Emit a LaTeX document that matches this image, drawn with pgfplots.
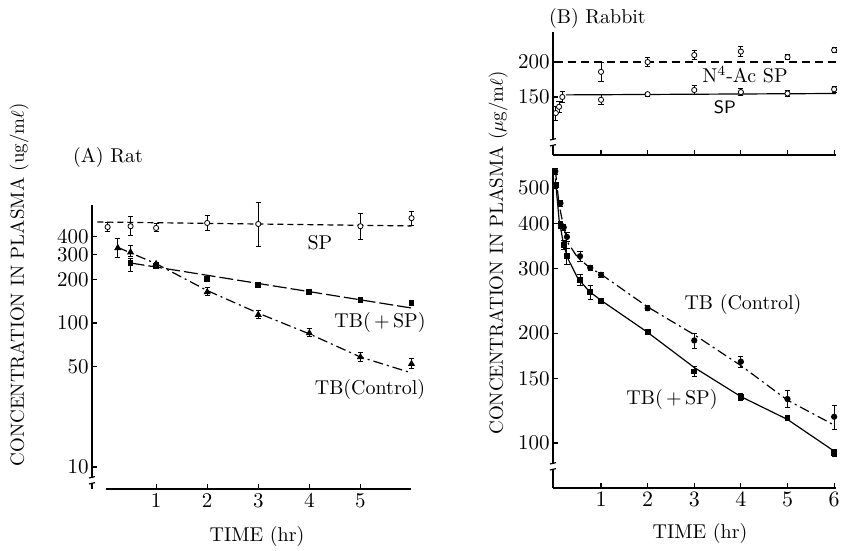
\documentclass[border=0pt]{standalone}
\usepackage{pgfplots}
\pgfplotsset{compat=1.18}
\begin{document}
\begin{tikzpicture}
\useasboundingbox (0,0) rectangle (421.5pt,275.5pt);
\pgfplotsset{
 base/.style={scale only axis, anchor=south west,
   axis x line*=bottom, axis y line*=left,
   axis line style={line width=0.8pt,-},
   tick style={black,line width=0.6pt}, major tick length=2.5pt, tick align=inside,
   tick label style={font=\fontsize{10.5}{12}\selectfont},
   yticklabel style={inner xsep=1.5pt, inner ysep=0pt}, xticklabel style={inner sep=2pt},
   yminorticks=false, xminorticks=false, clip=false},
 fitline/.style={line width=0.6pt, black},
 pts/.style={only marks, black, mark size=1.3pt, mark options={solid, line width=0.5pt},
   error bars/y dir=both, error bars/y explicit,
   error bars/error bar style={solid, line width=0.5pt},
   error bars/error mark options={rotate=90, mark size=1.3pt, line width=0.5pt}},
}
% ---------------- Panel A (Rat) ----------------
\begin{axis}[base, at={(46pt,31pt)}, width=159.5pt, height=142pt,
  xmin=-0.255, xmax=5.99, ymode=log, ymin=7.03, ymax=660,
  xtick={1,2,3,4,5,6}, xticklabels={1,2,3,4,5,{}},
  ytick={10,50,100,200,300,400}, yticklabels={10,50,100,200,300,400},
  x axis line style={shorten <=7pt}]
\addplot[fitline, dash pattern=on 3pt off 2pt] coordinates {(-0.15,503) (6,472)};
\addplot[fitline, dash pattern=on 7pt off 2pt] coordinates {(0.5,261) (6,127)};
\addplot[fitline, dash pattern=on 5pt off 2pt on 1pt off 2pt] coordinates {(0.25,335) (1,258) (2,168) (3,117) (4,84) (5,58) (6,45)};
% SP
\addplot[pts, mark=*, mark options={fill=white}] table[x=t,y=v,y error plus=ep,y error minus=em] {
t v ep em
0.05 464 35 32
0.5 470 77 66
1 457 30 28
2 495 63 56
3 487 205 145
5 470 109 88
6 535 63 57
};
% TB(+SP)
\addplot[pts, mark=square*, mark size=1.2pt] table[x=t,y=v,y error plus=ep,y error minus=em] {
t v ep em
0.5 262 20 36
1 248 5 5
2 202 4 4
3 184 4 4
4 164 3 3
5 144 3 3
6 138 3 3
};
% TB(Control)
\addplot[pts, mark=triangle*, mark size=1.6pt] table[x=t,y=v,y error plus=ep,y error minus=em] {
t v ep em
0.25 332 57 49
0.5 310 35 20
1 257 8 8
2 164 11 10
3 114 8 7
4 85 6 5
5 58 4 4
6 52 4.3 4
};
\end{axis}
% ---------------- Panel B top ----------------
\begin{axis}[base, at={(276.5pt,198pt)}, width=141.5pt, height=61.5pt,
  xmin=-0.03, xmax=6.04, ymin=67, ymax=243,
  xtick={1,2,3,4,5,6}, xticklabels={},
  ytick={150,200}, yticklabels={150,200}]
\addplot[fitline, dash pattern=on 4pt off 2.5pt] coordinates {(0.02,200) (6.04,200)};
\addplot[fitline] coordinates {(0.25,153) (6.04,155)};
% N4-Ac SP
\addplot[pts, mark=*, mark options={fill=white}] table[x=t,y=v,y error plus=ep,y error minus=em] {
t v ep em
1 186 14 14
2 200 6 6
3 210 7 7
4 215 7 7
5 207 4 4
6 217 4 4
};
% SP
\addplot[pts, mark=*, mark options={fill=white}] table[x=t,y=v,y error plus=ep,y error minus=em] {
t v ep em
0.03 127 10 10
0.1 136 8 8
0.17 150 8 8
1 146 7 7
2 154 3 3
3 160 7 7
4 157 5 5
5 155 4 4
6 161 4 4
};
\end{axis}
% ---------------- Panel B bottom ----------------
\begin{axis}[base, at={(276.5pt,31.5pt)}, width=141.5pt, height=160pt,
  xmin=-0.03, xmax=6.04, ymode=log, ymin=75.3, ymax=567,
  xtick={1,2,3,4,5,6},
  ytick={100,150,200,300,400,500}, yticklabels={100,150,200,300,400,500}]
\addplot[fitline, dash pattern=on 5pt off 2pt on 1pt off 2pt] coordinates {(0.02,560) (0.1,450) (0.2,390) (0.3,352) (0.5,322) (0.75,303) (1,290) (2,236) (3,198) (4,163) (5,131) (6,112)};
\addplot[fitline] coordinates {(0.02,530) (0.1,410) (0.2,348) (0.3,318) (0.5,283) (0.75,260) (1,246) (2,201) (3,161) (4,134) (5,116) (6,95)};
% TB(Control)
\addplot[pts, mark=*] table[x=t,y=v,y error plus=ep,y error minus=em] {
t v ep em
0.02 555 10 10
0.13 454 8 8
0.2 390 8 8
0.27 367 10 10
0.55 325 10 10
0.77 302 5 5
1 289 4 4
2 234 4 4
3 191 9 9
4 167 6 6
5 132 7 7
6 118 9 9
};
% TB(+SP)
\addplot[pts, mark=square*, mark size=1.2pt] table[x=t,y=v,y error plus=ep,y error minus=em] {
t v ep em
0.04 509 8 8
0.13 396 8 8
0.2 348 10 10
0.27 325 16 16
0.55 280 10 10
0.77 259 11 11
1 245 4 4
2 201 3 3
3 157 5 5
4 134 3 3
5 117 2 2
6 94 2 2
};
\end{axis}
% ---------------- axis breaks ----------------
\fill[white] (44pt,34pt) rectangle (48pt,36.5pt);
\draw[line width=0.6pt] (44.5pt,36.5pt) -- (47.5pt,37.2pt) (44.5pt,33.5pt) -- (47.5pt,34.2pt);
\fill[white] (274.5pt,203pt) rectangle (278.5pt,205.5pt);
\draw[line width=0.6pt] (275pt,205.5pt) -- (278pt,206.2pt) (275pt,202.5pt) -- (278pt,203.2pt);
\fill[white] (274.5pt,41pt) rectangle (278.5pt,43.5pt);
\draw[line width=0.6pt] (275pt,43.5pt) -- (278pt,44.2pt) (275pt,40.5pt) -- (278pt,41.2pt);
% ---------------- texts ----------------
\node[rotate=90, font=\fontsize{9.5}{11}\selectfont] at (9.5pt,133pt) {CONCENTRATION IN PLASMA (ug/m$\ell$)};
\node[rotate=90, font=\fontsize{9.5}{11}\selectfont] at (249pt,149pt) {CONCENTRATION IN PLASMA ($\mu$g/m$\ell$)};
\node at (128.5pt,7pt) {TIME (hr)};
\node at (350pt,8.5pt) {TIME (hr)};
\node[anchor=west] at (33pt,196.5pt) {(A) Rat};
\node at (160pt,154pt) {SP};
\node at (190pt,114pt) {TB(\,+\,SP)};
\node at (185pt,80.5pt) {TB(Control)};
\node[anchor=west] at (271pt,266pt) {(B) Rabbit};
\node[fill=white, inner sep=0.5pt] at (372.5pt,238pt) {N$^4$-Ac SP};
\node at (362.5pt,222pt) {\sffamily\small SP};
\node at (371.5pt,123pt) {TB (Control)};
\node at (336pt,75.5pt) {TB(\,+\,SP)};
\end{tikzpicture}
\end{document}
